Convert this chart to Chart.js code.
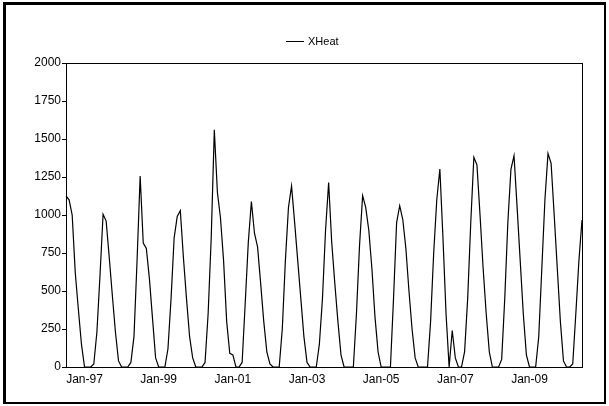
<!DOCTYPE html>
<html>
<head>
<meta charset="utf-8">
<script src="https://cdn.jsdelivr.net/npm/chart.js@4/dist/chart.umd.min.js"></script>
<style>
html,body{margin:0;padding:0;background:#fff;}
#wrap{position:relative;width:609px;height:406px;overflow:hidden;}
#frame{position:absolute;left:3px;top:2px;width:603px;height:402px;box-sizing:border-box;border-top:3px solid #000;border-left:3px solid #000;border-right:2px solid #000;border-bottom:2px solid #000;pointer-events:none;}
canvas{position:absolute;left:0;top:0;}
</style>
</head>
<body>
<div id="wrap">
<canvas id="c" width="609" height="406"></canvas>
<div id="frame"></div>
</div>
<script>
// Series name
const seriesName = 'XHeat';

// First month of the series (Jul 1996) and month names used to build the category labels
const monthNames = ['Jan','Feb','Mar','Apr','May','Jun','Jul','Aug','Sep','Oct','Nov','Dec'];
const startYear = 1996;
const startMonthIndex = 6; // July

// Monthly XHeat values, Jul-1996 .. Jun-2010
const xheatValues = [
  // 1996 Jul..Dec
  1125, 1100, 1000, 620, 380, 150,
  // 1997
  0, 0, 0, 20, 230, 600, 1005, 960, 720, 470, 230, 40,
  // 1998
  0, 0, 0, 30, 200, 700, 1257, 815, 780, 580, 320, 60,
  // 1999
  0, 0, 0, 120, 450, 850, 990, 1028, 720, 450, 200, 60,
  // 2000
  0, 0, 0, 30, 350, 850, 1560, 1150, 980, 700, 300, 90,
  // 2001
  80, 0, 0, 30, 420, 820, 1088, 880, 790, 550, 300, 100,
  // 2002
  20, 0, 0, 0, 250, 700, 1050, 1191, 950, 700, 450, 200,
  // 2003
  30, 0, 0, 0, 150, 450, 900, 1213, 820, 550, 300, 80,
  // 2004
  0, 0, 0, 0, 350, 800, 1127, 1050, 900, 650, 330, 100,
  // 2005
  0, 0, 0, 0, 450, 950, 1061, 970, 780, 500, 250, 60,
  // 2006
  0, 0, 0, 0, 300, 750, 1100, 1303, 850, 350, 0, 240,
  // 2007
  60, 0, 0, 100, 450, 950, 1380, 1330, 1000, 650, 350, 100,
  // 2008
  0, 0, 0, 50, 450, 950, 1300, 1390, 1050, 700, 350, 80,
  // 2009
  0, 0, 0, 200, 650, 1100, 1405, 1340, 1000, 650, 300, 40,
  // 2010 Jan..Jun
  0, 0, 20, 350, 700, 967
];

// Tick labels shown on the x axis
const xTickLabels = ['Jan-97','Jan-99','Jan-01','Jan-03','Jan-05','Jan-07','Jan-09'];

// Y axis
const yMin = 0, yMax = 2000, yStep = 250;

// Category labels (one per month)
const monthLabels = xheatValues.map((_, i) => {
  const m = (startMonthIndex + i) % 12;
  const y = startYear + Math.floor((startMonthIndex + i) / 12);
  return monthNames[m] + '-' + String(y % 100).padStart(2, '0');
});

const FONT = 'Liberation Sans, Arial, Helvetica, sans-serif';

const framePlugin = {
  id: 'plotFrame',
  afterDraw(chart) {
    const a = chart.chartArea, ctx = chart.ctx;
    ctx.save();
    ctx.strokeStyle = '#000';
    ctx.lineWidth = 1;
    ctx.strokeRect(Math.round(a.left) + 0.5, Math.round(a.top) + 0.5,
                   Math.round(a.right - a.left), Math.round(a.bottom - a.top));
    ctx.restore();
  }
};

const legendPlugin = {
  id: 'miniLegend',
  afterDraw(chart) {
    const ctx = chart.ctx;
    ctx.save();
    ctx.strokeStyle = '#000';
    ctx.lineWidth = 1;
    ctx.beginPath();
    ctx.moveTo(286, 41.5);
    ctx.lineTo(304, 41.5);
    ctx.stroke();
    ctx.fillStyle = '#000';
    ctx.font = '11px ' + FONT;
    ctx.textBaseline = 'middle';
    ctx.textAlign = 'left';
    ctx.fillText(seriesName, 308, 42);
    ctx.restore();
  }
};

new Chart(document.getElementById('c'), {
  type: 'line',
  data: {
    labels: monthLabels,
    datasets: [{
      label: seriesName,
      data: xheatValues,
      borderColor: '#000',
      borderWidth: 1.2,
      pointRadius: 0,
      tension: 0,
      fill: false
    }]
  },
  options: {
    responsive: false,
    animation: false,
    devicePixelRatio: 1,
    layout: { padding: { left: 26, right: 27, top: 63, bottom: 15 } },
    plugins: { legend: { display: false }, tooltip: { enabled: false } },
    scales: {
      x: {
        type: 'category',
        offset: false,
        grid: { display: false, drawTicks: false },
        border: { display: false },
        ticks: {
          autoSkip: false,
          maxRotation: 0,
          minRotation: 0,
          color: '#000',
          padding: 5,
          font: { size: 12, family: FONT },
          callback: function (v) {
            const l = this.getLabelForValue(v);
            return xTickLabels.includes(l) ? l : null;
          }
        },
        afterFit(s) { s.height = 24; }
      },
      y: {
        min: yMin,
        max: yMax,
        grid: { drawOnChartArea: false, drawTicks: true, tickLength: 4, color: '#000' },
        border: { display: false },
        ticks: {
          stepSize: yStep,
          color: '#000',
          padding: 1,
          font: { size: 12, family: FONT },
          callback: (v) => String(v)
        },
        afterFit(s) { s.width = 40; }
      }
    }
  },
  plugins: [framePlugin, legendPlugin]
});
</script>
</body>
</html>
